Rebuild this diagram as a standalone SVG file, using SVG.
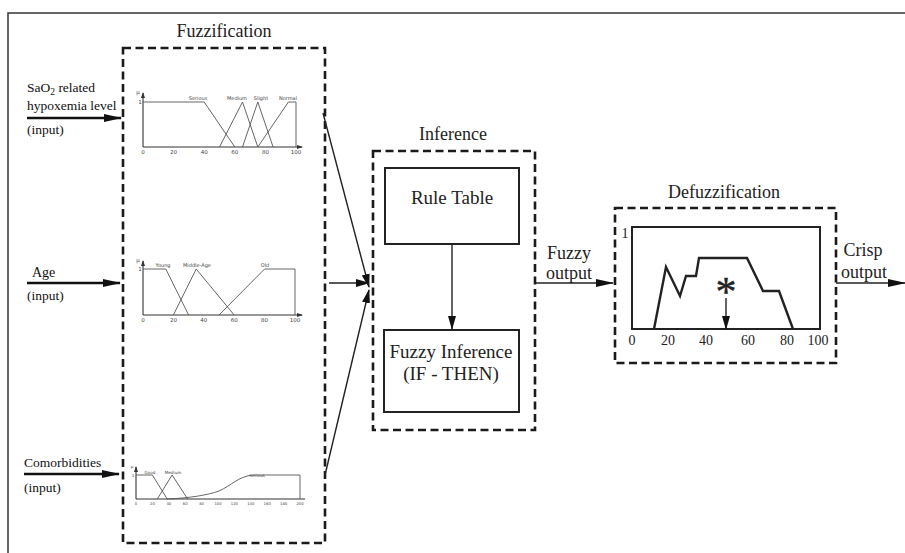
<svg xmlns="http://www.w3.org/2000/svg" width="905" height="553" viewBox="0 0 905 553">
  <defs>
    <style>
      .frame { fill: none; stroke: #333; stroke-width: 1.5; }
      .dash { fill: none; stroke: #1a1a1a; stroke-width: 2.6; stroke-dasharray: 8 4.5; }
      .box { fill: #fff; stroke: #222; stroke-width: 2; }
      .title { font-family: "Liberation Serif", "Times New Roman", serif; font-size: 18px; fill: #222; text-anchor: middle; }
      .lbl { font-family: "Liberation Serif", "Times New Roman", serif; font-size: 13.5px; fill: #111; }
      .big { font-family: "Liberation Serif", "Times New Roman", serif; font-size: 19px; fill: #222; text-anchor: middle; }
      .tick { font-family: "Liberation Serif", "Times New Roman", serif; font-size: 14px; fill: #222; text-anchor: middle; }
      .mf { fill: none; stroke: #555; stroke-width: 0.9; }
      .axis { fill: none; stroke: #333; stroke-width: 1.1; }
      .mft { font-family: "DejaVu Sans", "Liberation Sans", sans-serif; font-size: 5px; fill: #444; text-anchor: middle; }
      .mfs { font-family: "DejaVu Sans", "Liberation Sans", sans-serif; font-size: 4.2px; fill: #444; text-anchor: middle; }
      .mfx { font-family: "DejaVu Sans", "Liberation Sans", sans-serif; font-size: 3.8px; fill: #444; text-anchor: middle; }
      .mfn { font-family: "DejaVu Sans", "Liberation Sans", sans-serif; font-size: 5.5px; fill: #444; text-anchor: middle; }
      .thick { fill: none; stroke: #111; stroke-width: 2.6; }
      .thin { fill: none; stroke: #222; stroke-width: 1.4; }
      .curve { fill: none; stroke: #222; stroke-width: 2.4; stroke-linejoin: miter; }
    </style>
    <marker id="headBig" markerUnits="userSpaceOnUse" markerWidth="18" markerHeight="10" refX="17" refY="5" orient="auto">
      <path d="M0,1 L18,5 L0,9 Z" fill="#111"/>
    </marker>
    <marker id="headMid" markerUnits="userSpaceOnUse" markerWidth="14" markerHeight="10" refX="13" refY="5" orient="auto">
      <path d="M0,1 L14,5 L0,9 Z" fill="#111"/>
    </marker>
    <marker id="headSmall" markerUnits="userSpaceOnUse" markerWidth="6" markerHeight="6" refX="5" refY="3" orient="auto">
      <path d="M0,1 L6,3 L0,5 Z" fill="#333"/>
    </marker>
  </defs>

  <!-- outer frame (top and left edges) -->
  <path class="frame" d="M8,553 L8,13 L905,13"/>

  <!-- input labels -->
  <g id="input-sao2">
    <text class="lbl" x="27" y="92">SaO<tspan style="font-size:9.5px" dy="3">2</tspan><tspan dy="-3"> related</tspan></text>
    <text class="lbl" x="27" y="110">hypoxemia level</text>
    <text class="lbl" x="27" y="134">(input)</text>
  </g>
  <g id="input-age">
    <text class="lbl" x="32" y="277" style="font-size:14px">Age</text>
    <text class="lbl" x="27" y="300">(input)</text>
  </g>
  <g id="input-comorbidities">
    <text class="lbl" x="24" y="467">Comorbidities</text>
    <text class="lbl" x="24" y="492">(input)</text>
  </g>

  <!-- fuzzification stage -->
  <g id="fuzzification">
    <text class="title" x="224" y="37">Fuzzification</text>
    <rect class="dash" x="123" y="48" width="202" height="495"/>

    <!-- SaO2 membership functions -->
    <g id="mf-sao2">
      <path class="axis" d="M143,147 L302,147" marker-end="url(#headSmall)"/>
      <path class="axis" d="M143,147 L143,93" marker-end="url(#headSmall)"/>
      <text class="mfn" x="138" y="94">μ</text>
      <text class="mfn" x="140" y="104">1</text>
      <path class="mf" d="M143,102 L204.2,102 L234.8,147"/>
      <path class="mf" d="M219.5,147 L242.5,102 L257.8,147"/>
      <path class="mf" d="M242.5,147 L257.8,102 L273.1,147"/>
      <path class="mf" d="M257.8,147 L288.4,102 L296,102 L296,147"/>
      <text class="mft" x="198" y="100">Serious</text>
      <text class="mft" x="237" y="100">Medium</text>
      <text class="mft" x="261" y="100">Slight</text>
      <text class="mft" x="288" y="100">Normal</text>
      <text class="mfn" x="143" y="154">0</text>
      <text class="mfn" x="173.6" y="154">20</text>
      <text class="mfn" x="204.2" y="154">40</text>
      <text class="mfn" x="234.8" y="154">60</text>
      <text class="mfn" x="265.4" y="154">80</text>
      <text class="mfn" x="296" y="154">100</text>
    </g>

    <!-- Age membership functions -->
    <g id="mf-age">
      <path class="axis" d="M143,315 L302,315" marker-end="url(#headSmall)"/>
      <path class="axis" d="M143,315 L143,261" marker-end="url(#headSmall)"/>
      <text class="mfn" x="138" y="262">μ</text>
      <text class="mfn" x="140" y="271">1</text>
      <path class="mf" d="M143,269 L165.8,269 L188.6,315"/>
      <path class="mf" d="M173.4,315 L196.2,269 L234.2,315"/>
      <path class="mf" d="M219,315 L264.6,269 L295,269 L295,315"/>
      <text class="mft" x="163" y="267">Young</text>
      <text class="mft" x="197" y="267">Middle-Age</text>
      <text class="mft" x="265" y="267">Old</text>
      <text class="mfn" x="143" y="322">0</text>
      <text class="mfn" x="173.4" y="322">20</text>
      <text class="mfn" x="203.8" y="322">40</text>
      <text class="mfn" x="234.2" y="322">60</text>
      <text class="mfn" x="264.6" y="322">80</text>
      <text class="mfn" x="295" y="322">100</text>
    </g>

    <!-- Comorbidities membership functions -->
    <g id="mf-comorbidities">
      <path class="axis" d="M136,499 L305,499"/>
      <path class="axis" d="M136,499 L136,467" marker-end="url(#headSmall)"/>
      <text class="mfs" x="132" y="468">μ</text>
      <text class="mfs" x="133" y="477">1</text>
      <path class="mf" d="M136,475 L152.4,475 L167.2,499"/>
      <path class="mf" d="M157.3,499 L172.1,475 L187.7,499"/>
      <path class="mf" d="M167,499 C190,498 208,495 219,491 C232,485 238,477 252,475 L300,475 L300,499"/>
      <text class="mfs" x="150" y="474">Good</text>
      <text class="mfs" x="173" y="474">Medium</text>
      <text class="mfs" x="257" y="477">Serious</text>
      <text class="mfx" x="136" y="505">0</text>
      <text class="mfx" x="152.4" y="505">20</text>
      <text class="mfx" x="168.8" y="505">40</text>
      <text class="mfx" x="185.2" y="505">60</text>
      <text class="mfx" x="201.6" y="505">80</text>
      <text class="mfx" x="218" y="505">100</text>
      <text class="mfx" x="234.4" y="505">120</text>
      <text class="mfx" x="250.8" y="505">140</text>
      <text class="mfx" x="267.2" y="505">160</text>
      <text class="mfx" x="283.6" y="505">180</text>
      <text class="mfx" x="300" y="505">200</text>
    </g>
  </g>

  <!-- inference stage -->
  <g id="inference">
    <text class="title" x="453" y="140">Inference</text>
    <rect class="dash" x="373" y="151" width="162" height="279"/>
    <g id="rule-table">
      <rect class="box" x="385" y="168" width="134" height="76"/>
      <text class="big" x="452" y="204">Rule Table</text>
    </g>
    <g id="fuzzy-inference">
      <rect class="box" x="384" y="330" width="135" height="82"/>
      <text class="big" x="451" y="358">Fuzzy Inference</text>
      <text class="big" x="451" y="380">(IF - THEN)</text>
    </g>
  </g>

  <!-- defuzzification stage -->
  <g id="defuzzification">
    <text class="title" x="724" y="198">Defuzzification</text>
    <rect class="dash" x="615" y="208" width="221" height="155"/>
    <rect fill="none" stroke="#222" stroke-width="2" x="632" y="227" width="188" height="102"/>
    <text class="tick" x="625" y="238">1</text>
    <path class="curve" d="M654,329 L666,267 L680,296 L686,276 L696,276 L699,258 L747,258 L763,291 L779,291 L793,329"/>
    <text class="big" x="726" y="306" style="font-size:42px" stroke="#222" stroke-width="0.4">*</text>
    <path class="thin" d="M726,298 L726,329" marker-end="url(#headMid)"/>
    <text class="tick" x="632" y="345">0</text>
    <text class="tick" x="668" y="345">20</text>
    <text class="tick" x="706" y="345">40</text>
    <text class="tick" x="748" y="345">60</text>
    <text class="tick" x="787" y="345">80</text>
    <text class="tick" x="818" y="345">100</text>
  </g>

  <!-- output labels -->
  <g id="fuzzy-output-label">
    <text class="big" x="569" y="259" style="font-size:18px">Fuzzy</text>
    <text class="big" x="569" y="279" style="font-size:18px">output</text>
  </g>
  <g id="crisp-output-label">
    <text class="big" x="863" y="256" style="font-size:18px">Crisp</text>
    <text class="big" x="864" y="278" style="font-size:18px">output</text>
  </g>

  <!-- connectors -->
  <g id="connectors">
    <path class="thick" d="M27,118 L121,118" marker-end="url(#headBig)"/>
    <path class="thick" d="M27,283 L120,283" marker-end="url(#headBig)"/>
    <path class="thick" d="M24,474 L119,474" marker-end="url(#headBig)"/>
    <path class="thin" d="M323,113 L369,287" marker-end="url(#headMid)"/>
    <path class="thin" d="M329,283 L369,283" marker-end="url(#headMid)"/>
    <path class="thin" d="M325,475 L369,290" marker-end="url(#headMid)"/>
    <path class="thin" d="M452,244 L452,329" marker-end="url(#headMid)"/>
    <path class="thin" d="M535,283 L613,283" marker-end="url(#headBig)"/>
    <path class="thin" d="M836,283 L905,283" marker-end="url(#headBig)"/>
  </g>
</svg>
